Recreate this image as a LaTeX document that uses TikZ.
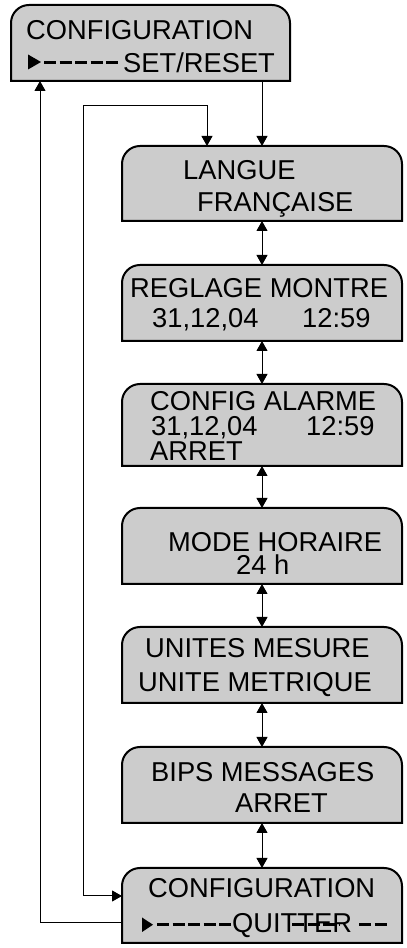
\documentclass[tikz,border=0pt]{standalone}
\usepackage{fontspec}
\setmainfont{Liberation Sans}
\usetikzlibrary{arrows.meta}
\definecolor{boxgray}{HTML}{CCCCCC}
\begin{document}
\begin{tikzpicture}[x=1pt,y=1pt,
  boxnode/.style={inner sep=0pt, outer sep=0pt, minimum width=280pt, minimum height=76pt},
  boxline/.style={fill=boxgray, draw=black, line width=2pt},
  txt/.style={anchor=base west, inner sep=0pt, font=\fontsize{27.3}{32}\selectfont},
  conn/.style={line width=1pt, -{Triangle[length=10pt,width=11pt]}},
  dconn/.style={line width=1pt, {Triangle[length=10pt,width=11pt]}-{Triangle[length=10pt,width=11pt]}},
  dashline/.style={line width=3pt, dash pattern=on 12pt off 3.5pt}
]
\useasboundingbox (0,0) rectangle (407,948);

% boxes
\node[boxnode, minimum width=279pt] (top) at (150.5,905) {};
\node[boxnode, minimum height=75pt] (langue) at (262,764.5) {};
\node[boxnode] (reglage) at (262,645) {};
\node[boxnode, minimum height=82pt] (alarme) at (262,523) {};
\node[boxnode] (mode) at (262,402) {};
\node[boxnode] (unites) at (262,283) {};
\node[boxnode] (bips) at (262,163) {};
\node[boxnode, minimum height=75pt] (quit) at (262,42.5) {};

\foreach \n in {top,langue,reglage,alarme,mode,unites,bips,quit}
  \path[boxline] (\n.south west) -- ([yshift=-18pt]\n.north west)
    arc[start angle=180,end angle=90,radius=18pt]
    -- ([xshift=-18pt]\n.north east)
    arc[start angle=90,end angle=0,radius=18pt]
    -- (\n.south east) -- cycle;

% texts
\node[txt] (t1a) at (26,908) {CONFIGURATION};
\node[txt] (t1b) at (123,875) {SET/RESET};
\fill (28,893.5) -- (41,886) -- (28,878.5) -- cycle;
\draw[dashline] (44,885.5) -- (121,885.5);

\node[txt] (t2a) at (183,768) {LANGUE};
\node[txt] (t2b) at (197,736) {FRANÇAISE};

\node[txt] (t3a) at (130,650) {REGLAGE MONTRE};
\node[txt] (t3b) at (152,620) {31,12,04};
\node[txt] (t3c) at (302,620) {12:59};

\node[txt] (t4a) at (150,537) {CONFIG ALARME};
\node[txt] (t4b) at (151,512.5) {31,12,04};
\node[txt] (t4c) at (306,512.5) {12:59};
\node[txt] (t4d) at (150,487) {ARRET};

\node[txt] (t5a) at (168,396.5) {MODE HORAIRE};
\node[txt] (t5b) at (236,373.5) {24 h};

\node[txt] (t6a) at (145,290) {UNITES MESURE};
\node[txt] (t6b) at (138,256) {UNITE METRIQUE};

\node[txt] (t7a) at (151,166) {BIPS MESSAGES};
\node[txt] (t7b) at (235,135) {ARRET};

\node[txt] (t8a) at (148,50) {CONFIGURATION};
\node[txt] (t8b) at (232,15) {QUITTER};
\fill (142,30.5) -- (153,23.3) -- (142,16) -- cycle;
\draw[dashline] (157,23.3) -- (232,23.3);
\draw[dashline] (292,23.3) -- (339,23.3);
\draw[dashline] (359,23.3) -- (390,23.3);

% connectors
\draw[conn] (top.south -| langue.north) -- (langue.north);
\draw[dconn] (langue.south) -- (reglage.north);
\draw[dconn] (reglage.south) -- (alarme.north);
\draw[dconn] (alarme.south) -- (mode.north);
\draw[dconn] (mode.south) -- (unites.north);
\draw[dconn] (unites.south) -- (bips.north);
\draw[dconn] (bips.south) -- (quit.north);

\coordinate (l1) at (207,842);
\coordinate (l2) at (83,842);
\coordinate (l3) at (83,52);
\draw[dconn] (l1 |- langue.north) -- (l1) -- (l2) -- (l3) -- (quit.west |- l3);

\coordinate (o1) at (40,25);
\draw[conn] (quit.west |- o1) -- (o1) -- (o1 |- top.south);
\end{tikzpicture}
\end{document}
